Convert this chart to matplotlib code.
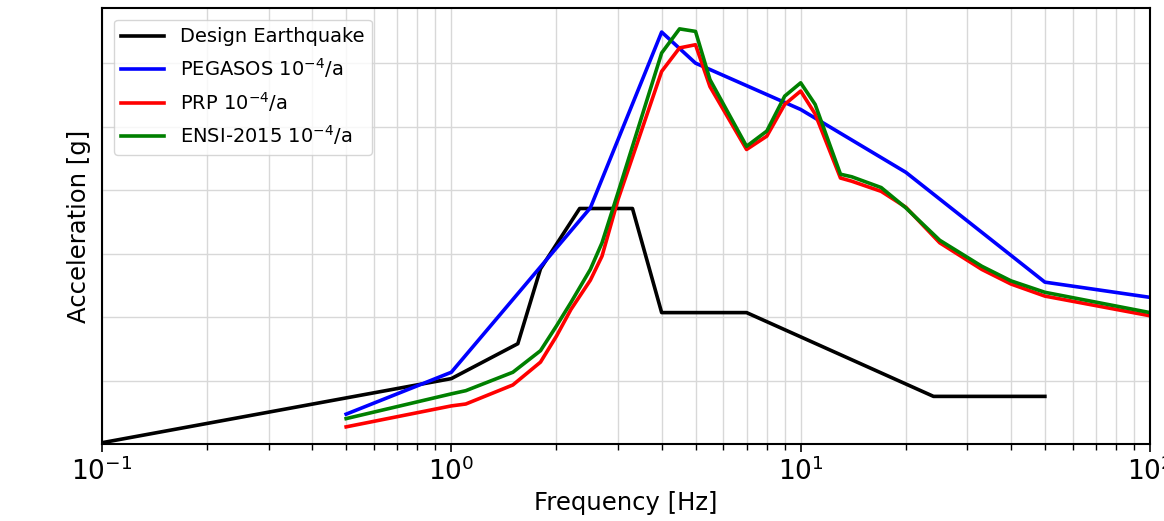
import matplotlib
matplotlib.use("Agg")
import matplotlib.pyplot as plt
from matplotlib.ticker import MultipleLocator, LogLocator, NullFormatter

# design earthquake spectrum
f_design = [0.1, 1.0, 1.55, 1.8, 2.33, 3.3, 4.0, 7.0, 24.0, 50.0]
a_design = [0.002, 0.103, 0.158, 0.276, 0.371, 0.371, 0.207, 0.207, 0.075, 0.075]

# PEGASOS 1e-4/a
f_peg = [0.5, 1.0, 2.5, 4.0, 5.0, 10.0, 20.0, 50.0, 100.0]
a_peg = [0.047, 0.113, 0.372, 0.649, 0.600, 0.527, 0.428, 0.255, 0.231]

# PRP and ENSI-2015 share the frequency grid
f_haz = [0.5, 1.0, 1.1, 1.5, 1.8, 2.0, 2.2, 2.5, 2.7, 3.0, 4.0, 4.5, 5.0, 5.5,
         7.0, 8.0, 9.0, 10.0, 11.0, 13.0, 14.0, 17.0, 20.0, 25.0, 33.0,
         40.0, 50.0, 100.0]
a_prp = [0.027, 0.060, 0.063, 0.093, 0.129, 0.170, 0.212, 0.258, 0.296, 0.385,
         0.587, 0.624, 0.629, 0.563, 0.464, 0.485, 0.535, 0.556, 0.520,
         0.419, 0.414, 0.398, 0.373, 0.317, 0.275, 0.252, 0.233, 0.202]
a_ensi = [0.040, 0.079, 0.084, 0.113, 0.147, 0.186, 0.223, 0.275, 0.317, 0.396,
          0.616, 0.654, 0.650, 0.574, 0.469, 0.493, 0.548, 0.569, 0.535,
          0.425, 0.421, 0.404, 0.372, 0.321, 0.280, 0.257, 0.239, 0.207]

fig = plt.figure(figsize=(11.64, 5.21), dpi=100)
ax = fig.add_axes([0.0876, 0.1478, 0.9004, 0.837])

lw = 2.6
ax.plot(f_design, a_design, color="black", lw=lw, label="Design Earthquake")
ax.plot(f_peg, a_peg, color="blue", lw=lw, label="PEGASOS $10^{-4}$/a")
ax.plot(f_haz, a_prp, color="red", lw=lw, label="PRP $10^{-4}$/a")
ax.plot(f_haz, a_ensi, color="green", lw=lw, label="ENSI-2015 $10^{-4}$/a")

ax.set_xscale("log")
ax.set_xlim(0.1, 100)
ax.set_ylim(0, 0.687)
ax.yaxis.set_major_locator(MultipleLocator(0.1))
ax.xaxis.set_minor_locator(LogLocator(base=10, subs=range(2, 10)))
ax.xaxis.set_minor_formatter(NullFormatter())

ax.grid(True, which="both", color="#d8d8d8", lw=1.0)
ax.tick_params(axis="y", left=False, labelleft=False)
ax.tick_params(axis="x", which="major", labelsize=19, length=6, width=1.2)
ax.tick_params(axis="x", which="minor", length=4, width=1.0)
for s in ax.spines.values():
    s.set_linewidth(1.5)

ax.set_xlabel("Frequency [Hz]", fontsize=17.5, labelpad=4)
ax.set_ylabel("Acceleration [g]", fontsize=17.5, labelpad=8)

ax.legend(loc="upper left", fontsize=14, handlelength=2.2, borderaxespad=0.6,
          framealpha=0.8)

fig.savefig("out.png", dpi=100)
